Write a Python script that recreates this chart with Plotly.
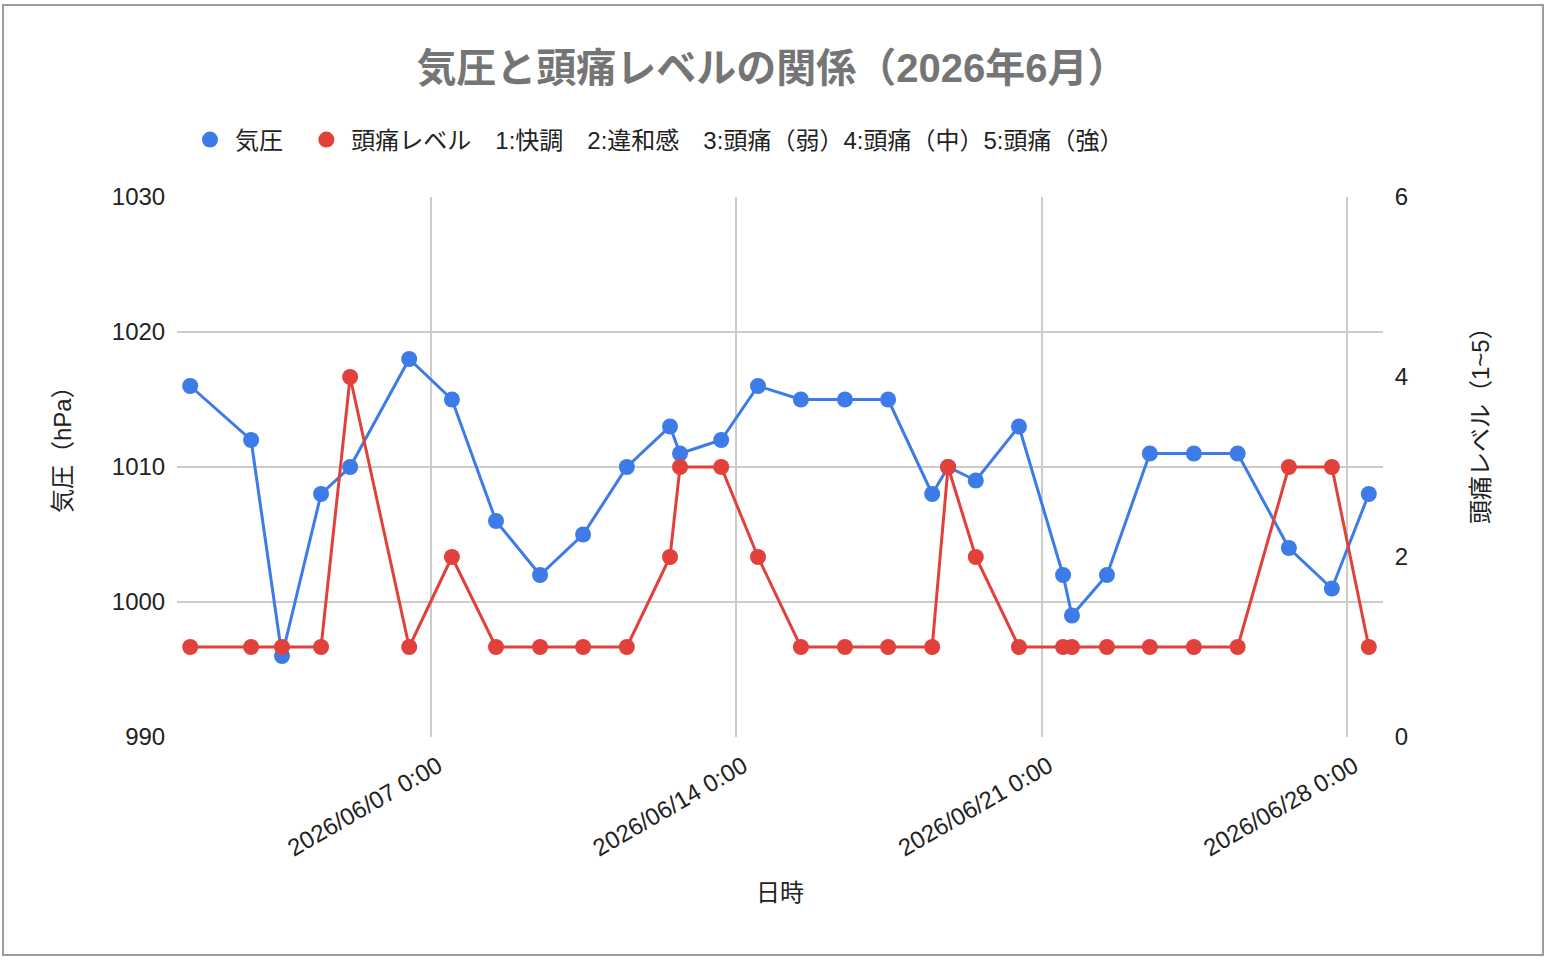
import plotly.graph_objects as go

# ---- data ----
times = [
    "2026-06-01 11:30", "2026-06-02 21:00", "2026-06-03 14:00", "2026-06-04 11:30",
    "2026-06-05 03:30", "2026-06-06 12:00", "2026-06-07 11:30", "2026-06-08 11:45",
    "2026-06-09 12:00", "2026-06-10 11:40", "2026-06-11 11:45", "2026-06-12 11:30",
    "2026-06-12 17:00", "2026-06-13 15:40", "2026-06-14 11:55", "2026-06-15 11:30",
    "2026-06-16 11:45", "2026-06-17 11:30", "2026-06-18 11:45", "2026-06-18 20:30",
    "2026-06-19 11:45", "2026-06-20 11:30", "2026-06-21 11:45", "2026-06-21 16:40",
    "2026-06-22 11:55", "2026-06-23 11:30", "2026-06-24 11:45", "2026-06-25 11:50",
    "2026-06-26 16:00", "2026-06-27 15:40", "2026-06-28 12:00",
]
pressure = [1016, 1012, 996, 1008, 1010, 1018, 1015, 1006, 1002, 1005, 1010, 1013,
            1011, 1012, 1016, 1015, 1015, 1015, 1008, 1010, 1009, 1013, 1002, 999,
            1002, 1011, 1011, 1011, 1004, 1001, 1008]
headache = [1, 1, 1, 1, 4, 1, 2, 1, 1, 1, 1, 2, 3, 3, 2, 1, 1, 1, 1, 3, 2, 1, 1, 1,
            1, 1, 1, 1, 3, 3, 1]
x_tickvals = ["2026-06-07 00:00", "2026-06-14 00:00", "2026-06-21 00:00", "2026-06-28 00:00"]
x_ticktext = ["2026/06/07 0:00", "2026/06/14 0:00", "2026/06/21 0:00", "2026/06/28 0:00"]
x_range = ["2026-06-01 04:14", "2026-06-28 19:48"]
name_pressure = "気圧"
name_headache = "頭痛レベル　1:快調　2:違和感　3:頭痛（弱）4:頭痛（中）5:頭痛（強）"
title_left = "気圧（hPa）"
title_right = "頭痛レベル（1~5）"

BLUE = "#3d7be8"
RED = "#e2403a"
FONT = "Liberation Sans, Arial, Noto Sans CJK JP, sans-serif"
FS = 24

fig = go.Figure()
fig.add_trace(go.Scatter(
    x=times, y=pressure, name=name_pressure, mode="lines+markers",
    line=dict(color=BLUE, width=3), marker=dict(color=BLUE, size=16),
    yaxis="y", showlegend=False,
))
fig.add_trace(go.Scatter(
    x=times, y=headache, name=name_headache, mode="lines+markers",
    line=dict(color=RED, width=3), marker=dict(color=RED, size=16),
    yaxis="y2", showlegend=False,
))
# legend entries (circle only, like the reference)
fig.add_trace(go.Scatter(x=[None], y=[None], mode="markers",
                         name=name_pressure + "\u00a0\u00a0",
                         marker=dict(color=BLUE, size=24), showlegend=True))
fig.add_trace(go.Scatter(x=[None], y=[None], mode="markers", name=name_headache,
                         marker=dict(color=RED, size=24), showlegend=True))

L, R, T, B = 177, 1383, 197, 737
W, H = 1550, 962
def px(xp):
    return (xp - L) / (R - L)
def py(yp):
    return (B - yp) / (B - T)

fig.update_layout(
    width=W, height=H,
    margin=dict(l=L, r=W - R, t=T, b=H - B),
    paper_bgcolor="white", plot_bgcolor="white",
    font=dict(family=FONT, color="#222222", size=FS),
    title=dict(text="<b>気圧と頭痛レベルの関係（2026年6月）</b>",
               x=772 / W, xanchor="center", y=1 - 68 / H, yanchor="middle",
               font=dict(family=FONT, size=40, color="#757575")),
    legend=dict(orientation="h", x=px(185), xanchor="left", y=py(140), yanchor="middle",
                font=dict(size=FS, color="#222222"), itemsizing="trace", itemwidth=40,
                bgcolor="rgba(0,0,0,0)"),
    showlegend=True,
    xaxis=dict(
        type="date", range=x_range,
        tickvals=x_tickvals, ticktext=x_ticktext, tickangle=-30,
        showgrid=True, gridcolor="#cccccc", gridwidth=2,
        zeroline=False, showline=False,
        ticks="outside", ticklen=5, tickcolor="rgba(0,0,0,0)",
        ticklabelshift=7,
        tickfont=dict(size=FS, color="#222222"),
        title=dict(text="日時", font=dict(size=FS, color="#222222"), standoff=23),
    ),
    yaxis=dict(
        range=[990, 1030], dtick=10, tick0=990,
        showgrid=True, gridcolor="#cccccc", gridwidth=2,
        zeroline=False, showline=False,
        ticks="outside", ticklen=6, tickcolor="rgba(0,0,0,0)",
        tickfont=dict(size=FS, color="#222222"),
    ),
    yaxis2=dict(
        range=[0, 6], dtick=2, tick0=0, overlaying="y", side="right",
        showgrid=False, zeroline=False, showline=False,
        ticks="outside", ticklen=6, tickcolor="rgba(0,0,0,0)",
        tickfont=dict(size=FS, color="#222222"),
    ),
    annotations=[
        dict(text=title_left, xref="paper", yref="paper", x=px(62), y=py(444),
             xanchor="center", yanchor="middle", textangle=-90, showarrow=False,
             font=dict(size=FS, color="#222222")),
        dict(text=title_right, xref="paper", yref="paper", x=px(1480), y=py(420),
             xanchor="center", yanchor="middle", textangle=-90, showarrow=False,
             font=dict(size=FS, color="#222222")),
    ],
    shapes=[dict(type="rect", xref="paper", yref="paper",
                 x0=px(3), x1=px(1543), y0=py(955), y1=py(5),
                 line=dict(color="#9e9e9e", width=2), layer="below")],
)

fig.write_html("out.html")
